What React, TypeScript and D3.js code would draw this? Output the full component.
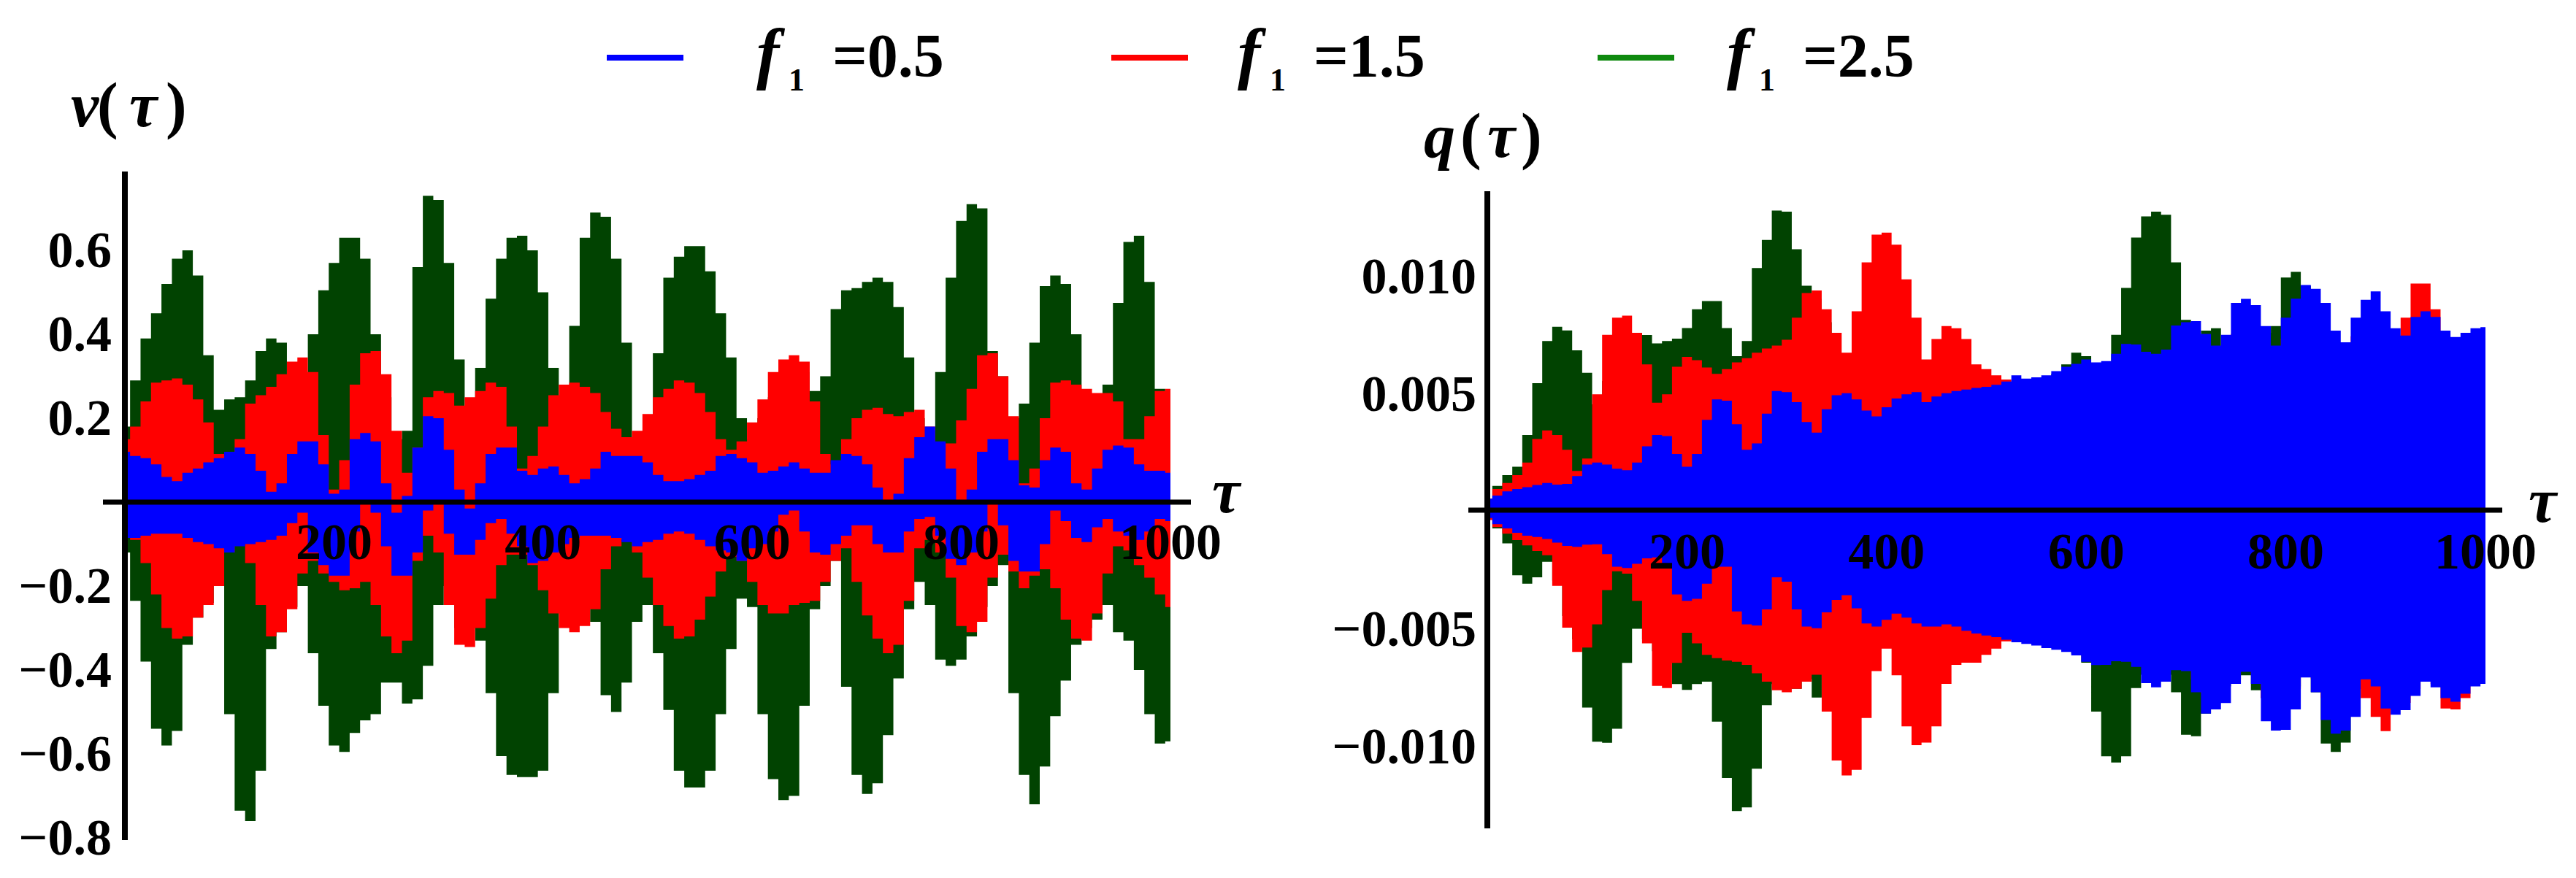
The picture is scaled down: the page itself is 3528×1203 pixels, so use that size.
import React from 'react';
import * as d3 from 'd3';

// sampling grid of the envelopes (tau every 10)
const tau = d3.range(0, 1001, 10);

// left panel: v(tau) envelopes (upper / lower edge of each filled band)
const vGreenHi = [
  0.18, 0.29, 0.39, 0.45, 0.52, 0.58, 0.6, 0.54, 0.35, 0.22,
  0.245, 0.25, 0.29, 0.36, 0.39, 0.38, 0.3, 0.28, 0.4, 0.505,
  0.57, 0.63, 0.63, 0.58, 0.4, 0.25, 0.15, 0.17, 0.56, 0.73,
  0.72, 0.57, 0.34, 0.22, 0.32, 0.485, 0.58, 0.63, 0.635, 0.6,
  0.5, 0.32, 0.2, 0.42, 0.63, 0.69, 0.68, 0.58, 0.38, 0.12,
  0.15, 0.355, 0.535, 0.585, 0.61, 0.61, 0.55, 0.45, 0.345, 0.2,
  0.15, 0.2, 0.25, 0.28, 0.3, 0.31, 0.265, 0.3, 0.46, 0.505,
  0.51, 0.525, 0.535, 0.525, 0.465, 0.345, 0.2, 0.17, 0.31, 0.535,
  0.67, 0.71, 0.7, 0.36, 0.3, 0.2, 0.235, 0.38, 0.515, 0.54,
  0.52, 0.4, 0.22, 0.2, 0.28, 0.475, 0.62, 0.635, 0.525, 0.27,
  0.2,
];
const vGreenLo = [
  -0.12, -0.235, -0.38, -0.54, -0.58, -0.545, -0.34, -0.275, -0.24, -0.2,
  -0.505, -0.735, -0.76, -0.64, -0.35, -0.31, -0.25, -0.2, -0.36, -0.485,
  -0.58, -0.595, -0.55, -0.52, -0.505, -0.43, -0.43, -0.48, -0.47, -0.39,
  -0.245, -0.2, -0.3, -0.3, -0.33, -0.455, -0.605, -0.65, -0.655, -0.655,
  -0.64, -0.455, -0.25, -0.22, -0.24, -0.285, -0.46, -0.5, -0.43, -0.285,
  -0.245, -0.36, -0.495, -0.64, -0.68, -0.68, -0.64, -0.505, -0.35, -0.23,
  -0.25, -0.505, -0.66, -0.71, -0.7, -0.485, -0.255, -0.2, -0.14, -0.44,
  -0.65, -0.695, -0.67, -0.555, -0.42, -0.255, -0.19, -0.245, -0.375, -0.39,
  -0.375, -0.32, -0.25, -0.2, -0.15, -0.455, -0.65, -0.72, -0.63, -0.51,
  -0.425, -0.34, -0.3, -0.28, -0.245, -0.31, -0.33, -0.4, -0.505, -0.575,
  -0.57,
];
const vRedHi = [
  0.15, 0.18, 0.24, 0.285, 0.29, 0.295, 0.28, 0.245, 0.19, 0.115,
  0.11, 0.15, 0.235, 0.255, 0.275, 0.305, 0.335, 0.345, 0.31, 0.16,
  0.03, 0.1, 0.28, 0.355, 0.36, 0.305, 0.17, 0.07, 0.13, 0.25,
  0.265, 0.26, 0.23, 0.25, 0.265, 0.285, 0.275, 0.18, 0.08, 0.11,
  0.18, 0.255, 0.28, 0.285, 0.275, 0.26, 0.215, 0.175, 0.155, 0.17,
  0.21, 0.25, 0.27, 0.29, 0.285, 0.26, 0.215, 0.15, 0.125, 0.145,
  0.19, 0.245, 0.31, 0.34, 0.35, 0.335, 0.24, 0.115, 0.09, 0.15,
  0.2, 0.22, 0.225, 0.21, 0.205, 0.215, 0.22, 0.18, 0.14, 0.14,
  0.195, 0.27, 0.35, 0.355, 0.3, 0.205, 0.045, 0.08, 0.2, 0.285,
  0.29, 0.28, 0.27, 0.26, 0.26, 0.24, 0.15, 0.15, 0.205, 0.265,
  0.27,
];
const vRedLo = [
  -0.07, -0.09, -0.145, -0.22, -0.3, -0.325, -0.32, -0.275, -0.245, -0.2,
  -0.12, -0.095, -0.145, -0.245, -0.32, -0.31, -0.255, -0.17, -0.14, -0.17,
  -0.19, -0.21, -0.205, -0.19, -0.245, -0.32, -0.36, -0.33, -0.14, -0.08,
  -0.12, -0.245, -0.34, -0.345, -0.3, -0.23, -0.15, -0.125, -0.125, -0.15,
  -0.21, -0.265, -0.3, -0.31, -0.295, -0.255, -0.16, -0.105, -0.09, -0.12,
  -0.18, -0.245, -0.295, -0.325, -0.32, -0.28, -0.225, -0.165, -0.13, -0.14,
  -0.19, -0.245, -0.265, -0.265, -0.245, -0.24, -0.235, -0.19, -0.14, -0.11,
  -0.19, -0.27, -0.325, -0.36, -0.34, -0.235, -0.11, -0.09, -0.12, -0.18,
  -0.295, -0.31, -0.285, -0.18, -0.125, -0.165, -0.205, -0.175, -0.16, -0.205,
  -0.28, -0.325, -0.33, -0.265, -0.17, -0.105, -0.115, -0.15, -0.18, -0.22,
  -0.25,
];
const vBlueHi = [
  0.12, 0.11, 0.105, 0.09, 0.06, 0.05, 0.07, 0.08, 0.095, 0.105,
  0.12, 0.13, 0.115, 0.075, 0.025, 0.045, 0.115, 0.145, 0.145, 0.09,
  0.02, 0.03, 0.15, 0.165, 0.145, 0.045, -0.025, 0.015, 0.13, 0.205,
  0.2, 0.125, 0.03, -0.015, 0.045, 0.115, 0.13, 0.13, 0.075, 0.065,
  0.08, 0.085, 0.065, 0.045, 0.055, 0.08, 0.12, 0.11, 0.11, 0.11,
  0.095, 0.065, 0.05, 0.05, 0.055, 0.065, 0.075, 0.11, 0.115, 0.105,
  0.095, 0.07, 0.075, 0.085, 0.095, 0.08, 0.07, 0.07, 0.1, 0.115,
  0.11, 0.09, 0.035, 0.005, 0.02, 0.105, 0.155, 0.18, 0.145, 0.08,
  0.005, 0.03, 0.12, 0.15, 0.15, 0.1, 0.04, 0.035, 0.1, 0.13,
  0.12, 0.045, 0.03, 0.08, 0.125, 0.135, 0.13, 0.09, 0.075, 0.075,
  0.07,
];
const vBlueLo = [
  -0.085, -0.085, -0.08, -0.075, -0.075, -0.075, -0.085, -0.095, -0.1, -0.11,
  -0.12, -0.105, -0.1, -0.095, -0.09, -0.08, -0.05, -0.025, -0.12, -0.15,
  -0.175, -0.175, -0.07, 0.005, -0.025, -0.105, -0.175, -0.175, -0.12, -0.02,
  -0.005, -0.075, -0.125, -0.125, -0.09, -0.05, -0.04, -0.075, -0.105, -0.145,
  -0.14, -0.12, -0.1, -0.085, -0.08, -0.08, -0.08, -0.085, -0.095, -0.105,
  -0.095, -0.09, -0.075, -0.07, -0.075, -0.09, -0.105, -0.115, -0.12, -0.14,
  -0.11, -0.1, -0.07, -0.03, -0.02, -0.07, -0.12, -0.125, -0.1, -0.08,
  -0.055, -0.055, -0.1, -0.12, -0.12, -0.07, -0.04, -0.035, -0.08, -0.135,
  -0.15, -0.12, -0.07, 0.0, -0.055, -0.14, -0.165, -0.165, -0.1, -0.02,
  -0.045, -0.085, -0.095, -0.06, -0.04, -0.07, -0.08, -0.09, -0.07, -0.04,
  -0.045,
];

// right panel: q(tau) envelopes, in units of 1e-3
const qGreenHi = [
  0.22, 1.03, 1.49, 1.85, 3.2, 5.4, 7.2, 7.8, 7.65, 6.8,
  5.85, 4.5, 5.5, 6.2, 6.9, 7.55, 7.45, 7.1, 7.2, 7.3,
  7.75, 8.55, 8.9, 8.9, 7.75, 6.55, 7.2, 10.3, 11.5, 12.75,
  12.7, 11.1, 9.55, 9.0, 8.0, 6.5, 5.5, 5.5, 6.0, 6.0,
  5.5, 5.0, 4.8, 4.9, 4.5, 4.7, 4.9, 5.0, 5.0, 5.1,
  5.0, 5.2, 5.3, 5.4, 5.4, 5.5, 5.6, 5.8, 6.2, 6.7,
  6.55, 6.0, 6.2, 7.46, 9.46, 11.6, 12.5, 12.7, 12.57, 10.54,
  8.1, 7.0, 7.64, 7.74, 6.8, 6.5, 6.5, 6.8, 7.55, 7.83,
  9.9, 10.14, 9.55, 8.5, 7.5, 6.8, 6.5, 6.8, 7.2, 7.0,
  6.6, 6.4, 6.5, 6.6, 6.5, 6.3, 6.2, 6.3, 6.4, 6.4,
  6.3,
];
const qGreenLo = [
  -0.33, -0.78, -1.41, -2.77, -3.13, -2.86, -2.2, -3.0, -4.5, -5.5,
  -8.4, -9.85, -9.9, -9.3, -6.5, -5.05, -5.5, -6.0, -6.5, -7.4,
  -7.65, -7.4, -7.3, -9.0, -11.4, -12.8, -12.65, -11.0, -8.3, -7.4,
  -7.3, -7.6, -7.2, -7.97, -6.5, -5.5, -5.0, -5.0, -5.2, -5.5,
  -5.0, -4.8, -4.8, -4.8, -4.9, -4.9, -4.9, -5.0, -5.0, -5.1,
  -5.2, -5.2, -5.3, -5.4, -5.5, -5.6, -5.7, -5.8, -5.9, -6.1,
  -6.49, -8.57, -10.47, -10.74, -10.47, -7.57, -7.0, -7.2, -7.0, -7.75,
  -9.56, -9.62, -8.66, -8.0, -7.5, -7.2, -7.03, -7.66, -8.0, -8.2,
  -8.0, -7.5, -6.85, -7.75, -9.93, -10.29, -9.89, -8.0, -7.0, -6.8,
  -7.0, -7.5, -7.3, -7.0, -6.8, -6.9, -7.0, -7.2, -7.1, -6.9,
  -6.8,
];
const qRedHi = [
  0.49, 0.9, 1.16, 1.49, 2.03, 3.03, 3.39, 3.2, 2.57, 1.67,
  2.2, 4.93, 7.46, 8.19, 8.28, 7.55, 6.2, 4.57, 4.93, 6.1,
  6.52, 6.38, 6.07, 5.8, 6.0, 6.29, 6.47, 6.7, 6.88, 7.0,
  7.25, 8.19, 9.24, 9.35, 8.55, 7.55, 6.7, 8.46, 10.54, 11.72,
  11.81, 11.3, 9.82, 8.19, 6.41, 7.28, 7.83, 7.74, 7.28, 6.2,
  6.0, 5.74, 5.56, 5.43, 5.4, 5.5, 5.5, 5.7, 5.9, 6.0,
  6.1, 6.0, 6.1, 6.3, 6.5, 6.6, 6.4, 6.3, 6.4, 6.8,
  7.2, 7.0, 6.8, 6.5, 6.8, 7.5, 7.8, 7.6, 7.0, 6.6,
  7.3, 7.8, 8.0, 7.9, 7.6, 7.0, 6.8, 7.4, 7.8, 8.0,
  7.6, 7.2, 8.19, 9.64, 9.64, 8.55, 7.2, 7.0, 7.1, 7.3,
  7.5,
];
const qRedLo = [
  -0.42, -0.72, -1.0, -1.27, -1.5, -1.74, -1.92, -3.22, -5.0, -6.03,
  -5.85, -4.86, -3.4, -2.6, -2.7, -3.86, -5.67, -7.48, -7.57, -6.5,
  -5.22, -5.67, -6.16, -6.3, -6.4, -6.45, -6.58, -6.94, -7.3, -7.66,
  -7.75, -7.6, -7.3, -7.0, -8.57, -10.65, -11.29, -11.05, -8.84, -6.85,
  -5.89, -7.03, -9.2, -10.0, -9.89, -9.2, -7.39, -6.58, -6.49, -6.49,
  -6.16, -5.89, -5.58, -5.5, -5.5, -5.6, -5.6, -5.8, -5.9, -6.0,
  -6.1, -6.2, -6.2, -6.3, -6.3, -6.5, -6.6, -6.8, -6.8, -6.5,
  -6.6, -7.2, -7.8, -7.6, -7.4, -7.0, -6.6, -7.0, -8.0, -8.4,
  -8.2, -7.6, -7.0, -7.2, -8.0, -8.2, -8.0, -7.6, -8.0, -8.8,
  -9.4, -8.5, -8.2, -7.6, -7.2, -7.4, -8.44, -8.48, -8.0, -7.4,
  -7.3,
];
const qBlueHi = [
  0.49, 0.62, 0.8, 0.9, 0.98, 1.07, 1.16, 1.09, 1.12, 1.45,
  1.94, 2.03, 1.94, 1.76, 1.7, 2.03, 2.72, 3.2, 3.15, 2.39,
  1.85, 2.39, 3.84, 4.71, 4.66, 3.66, 2.57, 2.84, 4.11, 5.07,
  5.02, 4.6, 3.75, 3.3, 4.29, 4.89, 4.98, 4.71, 4.24, 3.99,
  4.38, 4.75, 4.93, 5.02, 4.6, 4.84, 4.98, 5.07, 5.13, 5.2,
  5.25, 5.33, 5.47, 5.74, 5.6, 5.65, 5.74, 5.92, 6.1, 6.23,
  6.41, 6.29, 6.34, 6.65, 7.07, 7.05, 6.74, 6.65, 6.83, 7.86,
  8.0, 8.04, 7.5, 7.0, 7.46, 8.82, 8.99, 8.73, 7.83, 7.0,
  8.19, 9.0, 9.58, 9.42, 8.82, 7.64, 7.14, 8.19, 8.95, 9.31,
  8.46, 7.74, 7.43, 8.22, 8.46, 8.22, 7.64, 7.37, 7.55, 7.74,
  7.79,
];
const qBlueLo = [
  -0.33, -0.6, -0.78, -0.96, -1.09, -1.14, -1.23, -1.38, -1.52, -1.56,
  -1.47, -1.45, -1.87, -2.41, -2.46, -2.28, -2.05, -2.01, -2.41, -3.59,
  -3.86, -3.77, -3.13, -2.41, -2.41, -4.31, -4.86, -4.91, -4.22, -2.86,
  -3.04, -4.22, -4.95, -5.02, -4.35, -3.82, -3.62, -4.18, -4.82, -4.95,
  -4.67, -4.4, -4.57, -4.82, -4.95, -4.95, -4.86, -4.95, -5.13, -5.25,
  -5.33, -5.4, -5.51, -5.62, -5.69, -5.76, -5.87, -5.94, -6.03, -6.18,
  -6.45, -6.59, -6.58, -6.43, -6.45, -6.67, -7.36, -7.54, -7.3, -6.81,
  -6.85, -7.75, -8.66, -8.48, -8.21, -7.39, -6.88, -7.39, -8.98, -9.38,
  -9.35, -8.48, -7.12, -7.75, -8.93, -9.51, -9.38, -8.8, -7.2, -7.5,
  -8.44, -8.7, -8.51, -7.9, -7.3, -7.54, -8.0, -8.15, -7.81, -7.5,
  -7.39,
];

// tick labels
const vTicks = [0.6, 0.4, 0.2, -0.2, -0.4, -0.6, -0.8];
const qTicks = [0.01, 0.005, -0.005, -0.01];
const tauTicks = [200, 400, 600, 800, 1000];
const legendLabels = ['0.5', '1.5', '2.5'];

const W = 3528;
const H = 1203;
const FONT = '"Liberation Serif", "Times New Roman", serif';
const DARK_GREEN = '#014301';
const RED = '#ff0000';
const BLUE = '#0000ff';
const LEGEND_COLORS = [BLUE, RED, '#0f8a0f'];

const fmtMinus = (s: string) => s.replace('-', '\u2212');

function band(
  x: d3.ScaleLinear<number, number>,
  y: d3.ScaleLinear<number, number>,
  lo: number[],
  hi: number[],
  k = 1
) {
  return d3
    .area<number>()
    .x((t) => x(t))
    .y0((_, i) => y(lo[i] * k))
    .y1((_, i) => y(hi[i] * k))
    .curve(d3.curveStep)(tau) as string;
}

function AxisLabel({ x, y, name }: { x: number[]; y: number; name: string }) {
  return (
    <text y={y} fontFamily={FONT} fontWeight="bold" fontSize={86}>
      <tspan x={x[0]} fontStyle="italic">{name}</tspan>
      <tspan x={x[1]}>(</tspan>
      <tspan x={x[2]} fontStyle="italic">τ</tspan>
      <tspan x={x[3]}>)</tspan>
    </text>
  );
}

export default function App() {
  // left panel
  const xL = d3.scaleLinear().domain([0, 1000]).range([171, 1603]);
  const yL = d3.scaleLinear().domain([-0.8, 0.6]).range([1148, 343]);
  // right panel
  const xR = d3.scaleLinear().domain([0, 1000]).range([2037, 3404]);
  const yR = d3.scaleLinear().domain([-0.01, 0.01]).range([1021, 377]);
  const milli = 1e-3;

  const leftBands = [
    { lo: vGreenLo, hi: vGreenHi, color: DARK_GREEN },
    { lo: vRedLo, hi: vRedHi, color: RED },
    { lo: vBlueLo, hi: vBlueHi, color: BLUE },
  ];
  const rightBands = [
    { lo: qGreenLo, hi: qGreenHi, color: DARK_GREEN },
    { lo: qRedLo, hi: qRedHi, color: RED },
    { lo: qBlueLo, hi: qBlueHi, color: BLUE },
  ];

  const legendX = [
    { line: 831, text: 1036 },
    { line: 1522, text: 1695 },
    { line: 2188, text: 2365 },
  ];

  return (
    <svg
      width={W}
      height={H}
      viewBox={`0 0 ${W} ${H}`}
      style={{ position: 'absolute', left: 0, top: 0, background: '#fff' }}
    >
      <rect width={W} height={H} fill="#fff" />

      {/* legend */}
      {legendLabels.map((lab, i) => (
        <g key={lab}>
          <line
            x1={legendX[i].line}
            x2={legendX[i].line + 105}
            y1={79}
            y2={79}
            stroke={LEGEND_COLORS[i]}
            strokeWidth={8}
          />
          <text fontFamily={FONT} fontWeight="bold" fill="#000">
            <tspan x={legendX[i].text} y={104} fontSize={94} fontStyle="italic">f</tspan>
            <tspan x={legendX[i].text + 44} y={124} fontSize={44}>1</tspan>
            <tspan x={legendX[i].text + 104} y={105} fontSize={84}>{'=' + lab}</tspan>
          </text>
        </g>
      ))}

      {/* left panel */}
      {leftBands.map((b, i) => (
        <path key={'l' + i} d={band(xL, yL, b.lo, b.hi)} fill={b.color} />
      ))}
      <line x1={171} x2={171} y1={235} y2={1151} stroke="#000" strokeWidth={8} />
      <line x1={141} x2={1631} y1={yL(0)} y2={yL(0)} stroke="#000" strokeWidth={7} />
      {vTicks.map((v) => (
        <text
          key={'vt' + v}
          x={153}
          y={yL(v) + 23}
          textAnchor="end"
          fontFamily={FONT}
          fontWeight="bold"
          fontSize={70}
        >
          {fmtMinus(v.toFixed(1))}
        </text>
      ))}
      {tauTicks.map((t) => (
        <text
          key={'lt' + t}
          x={xL(t)}
          y={yL(0) + 78}
          textAnchor="middle"
          fontFamily={FONT}
          fontWeight="bold"
          fontSize={70}
        >
          {t}
        </text>
      ))}
      <AxisLabel x={[97, 133, 177, 227]} y={173} name="v" />
      <text x={1660} y={702} fontFamily={FONT} fontWeight="bold" fontStyle="italic" fontSize={86}>
        τ
      </text>

      {/* right panel */}
      {rightBands.map((b, i) => (
        <path key={'r' + i} d={band(xR, yR, b.lo, b.hi, milli)} fill={b.color} />
      ))}
      <line x1={2037} x2={2037} y1={262} y2={1135} stroke="#000" strokeWidth={8} />
      <line x1={2011} x2={3427} y1={yR(0)} y2={yR(0)} stroke="#000" strokeWidth={7} />
      {qTicks.map((q) => (
        <text
          key={'qt' + q}
          x={2022}
          y={yR(q) + 25}
          textAnchor="end"
          fontFamily={FONT}
          fontWeight="bold"
          fontSize={70}
        >
          {fmtMinus(q.toFixed(3))}
        </text>
      ))}
      {tauTicks.map((t) => (
        <text
          key={'rt' + t}
          x={xR(t)}
          y={yR(0) + 80}
          textAnchor="middle"
          fontFamily={FONT}
          fontWeight="bold"
          fontSize={70}
        >
          {t}
        </text>
      ))}
      <AxisLabel x={[1950, 2000, 2037, 2083]} y={215} name="q" />
      <text x={3463} y={715} fontFamily={FONT} fontWeight="bold" fontStyle="italic" fontSize={86}>
        τ
      </text>
    </svg>
  );
}
